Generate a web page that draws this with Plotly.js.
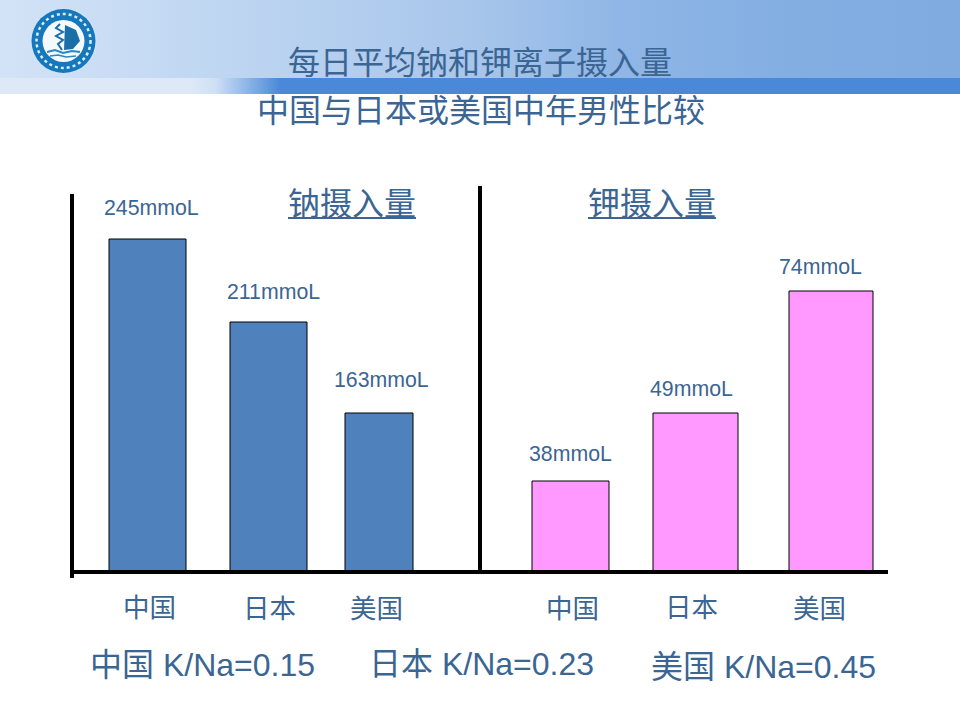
<!DOCTYPE html>
<html>
<head>
<meta charset="utf-8">
<script src="https://cdn.plot.ly/plotly-3.0.1.min.js"></script>
<style>
html,body{margin:0;padding:0;background:#fff;}
#chart{width:960px;height:720px;position:relative;
background:
 linear-gradient(90deg,#dde9f7 0,#dde9f7 190px,#cfe0f5 215px,#4a89d8 280px,#4a89d8 100%) 0 78px/960px 16px no-repeat,
 linear-gradient(90deg,#d3e3f7 0,#bdd5f1 240px,#a7c5eb 480px,#8fb6e6 620px,#83aee2 800px,#80abe1 100%) 0 0/960px 78px no-repeat,
 #fff;}
</style>
</head>
<body>
<div id="chart"></div>
<script>
// Data
var categories = ['中国', '日本', '美国'];
var sodiumValues = [245, 211, 163];        // printed labels, mmoL
var potassiumValues = [38, 49, 74];        // printed labels, mmoL
var ratioValues = [0.15, 0.23, 0.45];      // K/Na
// The source bars are hand-drawn and not proportional to their labels,
// so the drawn bar heights are read separately from the picture.
var sodiumBarHeights = [333, 250, 159];
var potassiumBarHeights = [91, 159, 281];
var unit = 'mmoL';

// Layout constants (axes are in page pixels; y is measured up from the baseline)
var BASE = 572;
var FONT = '"Liberation Sans","Noto Sans CJK SC",sans-serif';
var INK = '#3b6593';
var sodiumX = [147.5, 268.5, 379], sodiumW = [77, 77, 68];
var potassiumX = [570.5, 695.5, 831], potassiumW = [77, 85, 84];
function Y(py){ return BASE - py; }

function label(text, x, py, size, anchor){
  return {text:text, x:x, y:Y(py), xref:'x', yref:'y', showarrow:false,
    xanchor:anchor||'center', yanchor:'middle', align:'center',
    font:{family:FONT, size:size, color:INK}};
}
function line(x0,py0,x1,py1,color,w){
  return {type:'line', xref:'x', yref:'y', x0:x0, x1:x1, y0:Y(py0), y1:Y(py1), layer:'above',
    line:{color:color, width:w}};
}
function disc(cx,cy,r,color){
  return {type:'circle', xref:'x', yref:'y', x0:cx-r, x1:cx+r, y0:Y(cy+r), y1:Y(cy-r),
    fillcolor:color, line:{width:0}, layer:'above'};
}
function ring(cx,cy,r,color,w){
  return {type:'circle', xref:'x', yref:'y', x0:cx-r, x1:cx+r, y0:Y(cy+r), y1:Y(cy-r),
    fillcolor:'rgba(0,0,0,0)', line:{color:color, width:w, dash:'dot'}, layer:'above'};
}
function poly(points,fill,stroke,w){
  var d = points.map(function(p,i){ return (i?'L':'M')+p[0]+' '+Y(p[1]); }).join(' ');
  return {type:'path', xref:'x', yref:'y', path:d, layer:'above',
    fillcolor:fill||'rgba(0,0,0,0)', line:{color:stroke||'rgba(0,0,0,0)', width:w||0}};
}

var traces = [
  {type:'bar', name:'钠摄入量', x:sodiumX, y:sodiumBarHeights, width:sodiumW, base:0,
   marker:{color:'#4f81bd', line:{color:'#000', width:1}}, hoverinfo:'skip'},
  {type:'bar', name:'钾摄入量', x:potassiumX, y:potassiumBarHeights, width:potassiumW, base:0,
   marker:{color:'#ff99ff', line:{color:'#000', width:1}}, hoverinfo:'skip'}
];

var LX = 63.5, LY = 41;
var shapes = [
  line(72,194,72,578,'#000',4),
  line(480,186,480,572,'#000',4),
  line(72,572,888,572,'#000',4),
  line(288,218,416,218,INK,2),
  line(588,218,716,218,INK,2),
  // school emblem
  disc(LX,LY,33.5,'#cfe2f5'),
  disc(LX,LY,32,'#1578bd'),
  ring(LX,LY,27,'#dcecf7',2.5),
  disc(LX,LY,21,'#f4f9fc'),
  poly([[65,25],[76,30],[80,41],[73,49],[64,50]], '#1b6fa8'),
  poly([[60,24],[56,28],[63,32],[56,36],[63,40],[58,44],[62,50]], null, '#1b6fa8', 2),
  poly([[47,52],[55,50],[63,53],[72,51],[80,52]], null, '#2a87c4', 2),
  poly([[50,56],[58,55],[66,57],[76,56]], null, '#2a87c4', 1.5)
];

var annotations = [
  label('中国与日本或美国中年男性比较', 481, 110.5, 32),
  label('钠摄入量', 352, 203.5, 32),
  label('钾摄入量', 652, 203.5, 32),
  label(sodiumValues[0]+unit, 151, 208, 21.3),
  label(sodiumValues[1]+unit, 273, 292, 21.3),
  label(sodiumValues[2]+unit, 381.5, 380, 21.3),
  label(potassiumValues[0]+unit, 570.5, 454, 21.3),
  label(potassiumValues[1]+unit, 691.5, 389, 21.3),
  label(potassiumValues[2]+unit, 820, 267, 21.3),
  label(categories[0], 149.5, 608, 26.5),
  label(categories[1], 269.5, 609, 26.5),
  label(categories[2], 376, 609, 26.5),
  label(categories[0], 572, 609, 26.5),
  label(categories[1], 691, 608, 26.5),
  label(categories[2], 819, 609, 26.5),
  label(categories[0]+' K/Na='+ratioValues[0].toFixed(2), 87.5, 665, 32, 'left'),
  label(categories[1]+' K/Na='+ratioValues[1].toFixed(2), 367, 664, 32, 'left'),
  label(categories[2]+' K/Na='+ratioValues[2].toFixed(2), 649, 667, 32, 'left')
];

var layout = {
  width:960, height:720, margin:{l:0,r:0,t:0,b:0},
  paper_bgcolor:'rgba(0,0,0,0)', plot_bgcolor:'rgba(0,0,0,0)',
  showlegend:false, barmode:'overlay',
  title:{text:'每日平均钠和钾离子摄入量', x:480/960, xanchor:'center', xref:'paper',
         y:1-63/720, yanchor:'middle', yref:'container', font:{family:FONT,size:32,color:INK}},
  xaxis:{range:[0,960], visible:false, fixedrange:true},
  yaxis:{range:[BASE-720,BASE], visible:false, fixedrange:true},
  shapes:shapes, annotations:annotations
};
Plotly.newPlot('chart', traces, layout, {displayModeBar:false, staticPlot:true});
</script>
</body>
</html>
